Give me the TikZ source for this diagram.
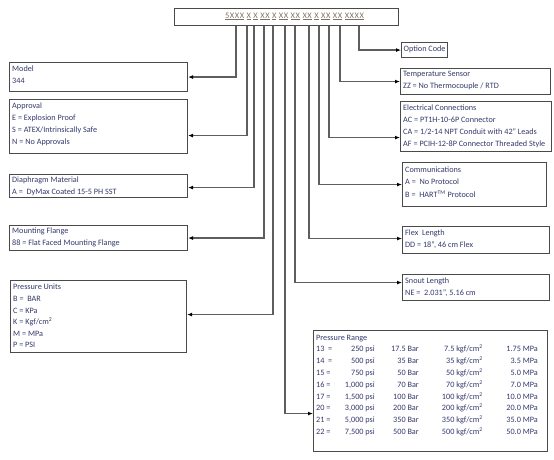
\documentclass[tikz,border=0pt]{standalone}
\usepackage{fontspec}
\setmainfont{Carlito}
\usetikzlibrary{arrows.meta}
\definecolor{txt}{HTML}{33386A}
\definecolor{codec}{HTML}{7D7164}
\definecolor{frame}{HTML}{4A4A4A}
\definecolor{conn}{HTML}{5E5E5E}
\tikzset{
  box/.style={draw=frame, line width=1.1pt, anchor=north west, inner sep=0pt},
  lbl/.style={anchor=north west, inner sep=0pt, align=left, text=txt,
    font=\fontsize{8.2}{11.9}\selectfont},
  cell/.style={inner sep=0pt, text=txt, font=\fontsize{8.2}{9}\selectfont},
  link/.style={draw=conn, line width=1.2pt, -{Latex[length=5pt,width=4pt,black]}},
}
\begin{document}
\begin{tikzpicture}[x=1pt,y=-1pt]
\useasboundingbox (0,0) rectangle (554,459);
% top code box
\node[box, minimum width=224pt, minimum height=17pt] (code) at (174,8) {};
\node[inner sep=0pt, text=codec, font=\fontsize{8.4}{9}\selectfont\addfontfeature{LetterSpace=7}] (codeT) at (294.5,16.5)
  {\underline{5XXX} \underline{X} \underline{X} \underline{XX} \underline{X} \underline{XX} \underline{XX} \underline{XX} \underline{X} \underline{XX} \underline{XX} \underline{XXXX}};
% left boxes
\node[box, minimum width=178pt, minimum height=29pt] (model) at (9,62) {};
\node[lbl] (modelT) at ([xshift=3pt,yshift=-3.5pt]model.north west) {Model\\344};
\node[box, minimum width=178pt, minimum height=54pt] (appr) at (9,99) {};
\node[lbl] (apprT) at ([xshift=3pt,yshift=-3.5pt]appr.north west) {Approval\\E = Explosion Proof\\S = ATEX/Intrinsically Safe\\N = No Approvals};
\node[box, minimum width=178pt, minimum height=23pt] (diaph) at (9,174) {};
\node[lbl] (diaphT) at ([xshift=3pt,yshift=-2.5pt]diaph.north west) {Diaphragm Material\\A = \ DyMax Coated 15-5 PH SST};
\node[box, minimum width=178pt, minimum height=25pt] (flange) at (9,225) {};
\node[lbl] (flangeT) at ([xshift=3pt,yshift=-3pt]flange.north west) {Mounting Flange\\88 = Flat Faced Mounting Flange};
\node[box, minimum width=176pt, minimum height=72pt] (units) at (10,280) {};
\node[lbl, font=\fontsize{8.2}{11.6}\selectfont] (unitsT) at ([xshift=3pt,yshift=-4pt]units.north west) {Pressure Units\\B = \ BAR\\C = KPa\\K = Kgf/cm\textsuperscript{2}\\M = MPa\\P = PSI};
% right boxes
\node[box, minimum width=46pt, minimum height=15pt] (opt) at (401,42) {};
\node[lbl] (optT) at ([xshift=2.5pt,yshift=-3.5pt]opt.north west) {Option Code};
\node[box, minimum width=150pt, minimum height=26pt] (temp) at (400,68) {};
\node[lbl] (tempT) at ([xshift=3pt,yshift=-3pt]temp.north west) {Temperature Sensor\\ZZ = No Thermocouple / RTD};
\node[box, minimum width=151pt, minimum height=50pt] (elec) at (400,101) {};
\node[lbl] (elecT) at ([xshift=3pt,yshift=-4pt]elec.north west) {Electrical Connections\\AC = PT1H-10-6P Connector\\CA = 1/2-14 NPT Conduit with 42'' Leads\\AF = PCIH-12-8P Connector Threaded Style};
\node[box, minimum width=144pt, minimum height=44pt] (comm) at (402,162) {};
\node[lbl, font=\fontsize{8.2}{12.5}\selectfont] (commT) at ([xshift=3pt,yshift=-4.5pt]comm.north west) {Communications\\A = \ No Protocol\\B = \ HART\textsuperscript{TM} Protocol};
\node[box, minimum width=147pt, minimum height=27pt] (flex) at (402,226) {};
\node[lbl] (flexT) at ([xshift=3pt,yshift=-4pt]flex.north west) {Flex \ Length\\DD = 18'', 46 cm Flex};
\node[box, minimum width=147pt, minimum height=26pt] (snout) at (402,274) {};
\node[lbl] (snoutT) at ([xshift=3pt,yshift=-4pt]snout.north west) {Snout Length\\NE = \ 2.031'', 5.16 cm};
% pressure range
\node[box, minimum width=234pt, minimum height=121pt] (range) at (313,330) {};
\node[cell, anchor=base west] (rangeT) at (316,340) {Pressure Range};
\foreach \lab/\p/\b/\bx/\ba/\k/\m [count=\i] in {
  {13 \ =}/250 psi/17.5 Bar/419/east/7.5/1.75,
  {14 \ =}/500 psi/35 Bar/419/east/35/3.5,
  {15 =}/750 psi/50 Bar/419/east/50/5.0,
  {16 =}/{1,000 psi}/70 Bar/419/east/70/7.0,
  {17 =}/{1,500 psi}/100 Bar/393/west/100/10.0,
  {20 =}/{3,000 psi}/200 Bar/393/west/200/20.0,
  {21 =}/{5,000 psi}/350 Bar/393/west/350/35.0,
  {22 =}/{7,500 psi}/500 Bar/393/west/500/50.0}{
  \pgfmathsetmacro{\yy}{340+11.8*\i}
  \node[cell, anchor=base west] (lab\i) at (316,\yy) {\lab};
  \node[cell, anchor=base east] (psi\i) at (375,\yy) {\p};
  \node[cell, anchor=base \ba] (bar\i) at (\bx,\yy) {\b};
  \node[cell, anchor=base east] (kgf\i) at (483,\yy) {\k\ kgf/cm\textsuperscript{2}};
  \node[cell, anchor=base east] (mpa\i) at (538,\yy) {\m\ MPa};
}
% connectors
\foreach \n/\x in {1/236,2/247,3/254,4/264,5/273,6/285,7/295,8/309,9/319,10/329,11/340,12/359}
  \coordinate (t\n) at (\x,0);
\draw[link] (t1 |- code.south) |- (model.east);
\draw[link] (t2 |- code.south) |- ([yshift=-9pt]appr.east);
\draw[link] (t3 |- code.south) |- ([yshift=-1.5pt]diaph.east);
\draw[link] (t4 |- code.south) |- (flange.east);
\draw[link] (t5 |- code.south) |- ([yshift=2pt]units.east);
\draw[link] (t6 |- code.south) |- ([yshift=-22.5pt]range.west);
\draw[link] (t7 |- code.south) |- ([yshift=5pt]snout.west);
\draw[link] (t8 |- code.south) |- ([yshift=1.5pt]flex.west);
\draw[link] (t9 |- code.south) |- (comm.west);
\draw[link] (t10 |- code.south) |- ([yshift=-11pt]elec.west);
\draw[link] (t11 |- code.south) |- (temp.west);
\draw[link] (t12 |- code.south) |- (opt.west);
\end{tikzpicture}
\end{document}
